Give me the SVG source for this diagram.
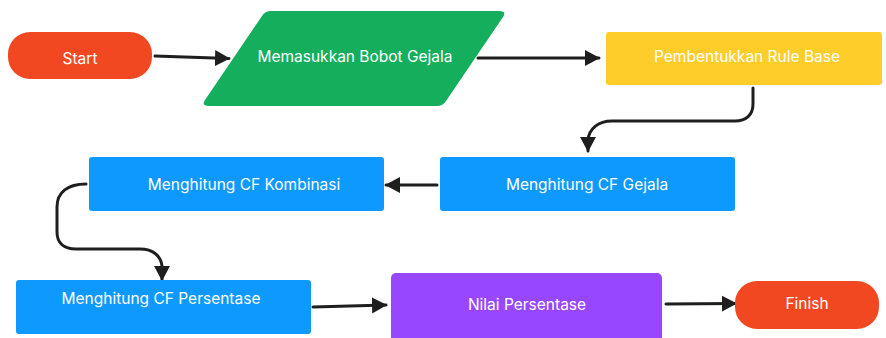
<svg xmlns="http://www.w3.org/2000/svg" width="886" height="338" viewBox="0 0 886 338">
<defs>
<style>
.t{font-family:Inter,"Noto Sans","Liberation Sans",sans-serif;font-size:15.5px;fill:#FFFFFF;text-anchor:middle}
.c{fill:none;stroke:#1E1E1E;stroke-width:3;stroke-linecap:round;stroke-linejoin:round}
</style>
<marker id="ah" markerUnits="userSpaceOnUse" markerWidth="16" markerHeight="18" refX="14" refY="8" orient="auto" viewBox="0 0 16 16">
<path d="M0,0 L15,8 L0,16 Z" fill="#1E1E1E"/>
</marker>
</defs>
<rect width="886" height="338" fill="#FFFFFF"/>
<g id="connectors">
<path class="c" d="M155,56 L229,58.5" marker-end="url(#ah)"/>
<path class="c" d="M478,58 L599,58" marker-end="url(#ah)"/>
<path class="c" d="M753,88 L753,104 C753,115 746,121 735,121 L612,121 C598,121 589,129 588,140 L588,151" marker-end="url(#ah)"/>
<path class="c" d="M437,185 L386,185" marker-end="url(#ah)"/>
<path class="c" d="M86,184 C68,184 57,192 57,207 L57,232 C57,243 64,249 76,249 L140,249 C153,249 161,256 162,266 L162,280" marker-end="url(#ah)"/>
<path class="c" d="M313,307 L386,305" marker-end="url(#ah)"/>
<path class="c" d="M666,304 L736,303.5" marker-end="url(#ah)"/>
</g>
<g id="start">
<rect x="8" y="32" width="144" height="47" rx="22" fill="#F24822"/>
<text class="t" x="80" y="64">Start</text>
</g>
<g id="memasukkan">
<path d="M271,11 L499,11 Q507,11 503,17 L446,101 Q443,106 437,106 L209,106 Q201,106 205,100 L262,16 Q265,11 271,11 Z" fill="#14AE5C"/>
<text class="t" x="355" y="62">Memasukkan Bobot Gejala</text>
</g>
<g id="pembentukkan">
<rect x="606" y="32" width="276" height="53" rx="3" fill="#FFCD29"/>
<text class="t" x="747" y="62">Pembentukkan Rule Base</text>
</g>
<g id="cf-gejala">
<rect x="440" y="157" width="295" height="54" rx="3" fill="#0D99FF"/>
<text class="t" x="587" y="190">Menghitung CF Gejala</text>
</g>
<g id="cf-kombinasi">
<rect x="89" y="157" width="295" height="54" rx="3" fill="#0D99FF"/>
<text class="t" x="244" y="190">Menghitung CF Kombinasi</text>
</g>
<g id="cf-persentase">
<rect x="16" y="280" width="295" height="54" rx="3" fill="#0D99FF"/>
<text class="t" x="161" y="304">Menghitung CF Persentase</text>
</g>
<g id="nilai">
<rect x="391" y="273" width="271" height="80" rx="5" fill="#9747FF"/>
<text class="t" x="527" y="310">Nilai Persentase</text>
</g>
<g id="finish">
<rect x="735" y="281" width="144" height="48" rx="22" fill="#F24822"/>
<text class="t" x="807" y="309">Finish</text>
</g>
</svg>
